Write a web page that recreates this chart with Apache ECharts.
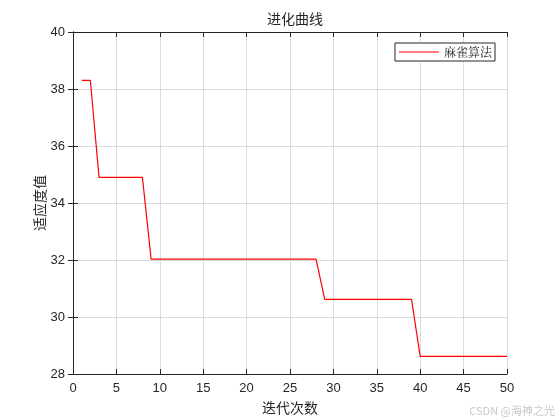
<!DOCTYPE html>
<html><head><meta charset="utf-8">
<script src="https://cdn.jsdelivr.net/npm/echarts@6/dist/echarts.min.js"></script>
<style>html,body{margin:0;padding:0;background:#fff}#c{width:560px;height:420px}</style>
</head><body><div id="c"></div>
<script>
var iterations = [1,2,3,4,5,6,7,8,9,10,11,12,13,14,15,16,17,18,19,20,21,22,23,24,25,26,27,28,29,30,31,32,33,34,35,36,37,38,39,40,41,42,43,44,45,46,47,48,49,50];
var fitness = [38.3,38.3,34.9,34.9,34.9,34.9,34.9,34.9,32.03,32.03,32.03,32.03,32.03,32.03,32.03,32.03,32.03,32.03,32.03,32.03,32.03,32.03,32.03,32.03,32.03,32.03,32.03,32.03,30.62,30.62,30.62,30.62,30.62,30.62,30.62,30.62,30.62,30.62,30.62,28.62,28.62,28.62,28.62,28.62,28.62,28.62,28.62,28.62,28.62,28.62];
var xTicks = [0,5,10,15,20,25,30,35,40,45,50];
var yTicks = [28,30,32,34,36,38,40];
var seriesName = '麻雀算法';
var titleText = '进化曲线';
var xName = '迭代次数';
var yName = '适应度值';

var pts = iterations.map(function(x,i){return [x, fitness[i]];});
var axLine = {show:true, lineStyle:{color:'#262626', width:1}};
var lbl = {color:'#262626', fontSize:13, fontFamily:'Liberation Sans, Arial, sans-serif'};
var chart = echarts.init(document.getElementById('c'));
chart.setOption({
  animation:false,
  backgroundColor:'#fff',
  title:{text:titleText, left:290, top:7, textAlign:'center',
    textStyle:{fontSize:14, fontWeight:'normal', color:'#262626', fontFamily:'Noto Sans CJK SC'}},
  grid:{left:73, right:53, top:32, bottom:46, containLabel:false},
  legend:{right:65, top:43, itemWidth:40, itemHeight:1, itemGap:6,
    padding:[3,3,3,4], borderColor:'#262626', borderWidth:1, backgroundColor:'#fff',
    textStyle:{fontSize:12, color:'#262626', fontFamily:'Noto Serif CJK SC, Noto Sans CJK SC'},
    data:[{name:seriesName, icon:'rect'}]},
  xAxis:[{type:'value', min:0, max:50, interval:5, position:'bottom',
    name:xName, nameLocation:'middle', nameGap:27, nameMoveOverlap:false,
    nameTextStyle:{fontSize:14, color:'#262626', fontFamily:'Noto Sans CJK SC'},
    axisLine:axLine, axisTick:{show:true, inside:true, length:5, lineStyle:{color:'#262626'}},
    axisLabel:lbl, splitLine:{show:true, lineStyle:{color:'#dcdcdc', width:1}}},
    {type:'value', min:0, max:50, interval:5, position:'top',
    axisLine:axLine, axisTick:{show:true, inside:true, length:5, lineStyle:{color:'#262626'}},
    axisLabel:{show:false}, splitLine:{show:false}}],
  yAxis:[{type:'value', min:28, max:40, interval:2, position:'left',
    name:yName, nameLocation:'middle', nameGap:26, nameRotate:90, nameMoveOverlap:false,
    nameTextStyle:{fontSize:14, color:'#262626', fontFamily:'Noto Sans CJK SC'},
    axisLine:axLine, axisTick:{show:true, inside:true, length:5, lineStyle:{color:'#262626'}},
    axisLabel:lbl, splitLine:{show:true, lineStyle:{color:'#dcdcdc', width:1}}},
    {type:'value', min:28, max:40, interval:2, position:'right',
    axisLine:axLine, axisTick:{show:true, inside:true, length:5, lineStyle:{color:'#262626'}},
    axisLabel:{show:false}, splitLine:{show:false}}],
  graphic:[{type:'text', right:5, bottom:4,
    style:{text:'CSDN @海神之光', fill:'#c8c8c8', fontSize:11, fontFamily:'Noto Sans CJK SC'}}],
  series:[{name:seriesName, type:'line', data:pts, showSymbol:false, symbol:'none',
    lineStyle:{color:'#ff0000', width:1.2}, itemStyle:{color:'#ff0000'}}]
});
</script></body></html>
